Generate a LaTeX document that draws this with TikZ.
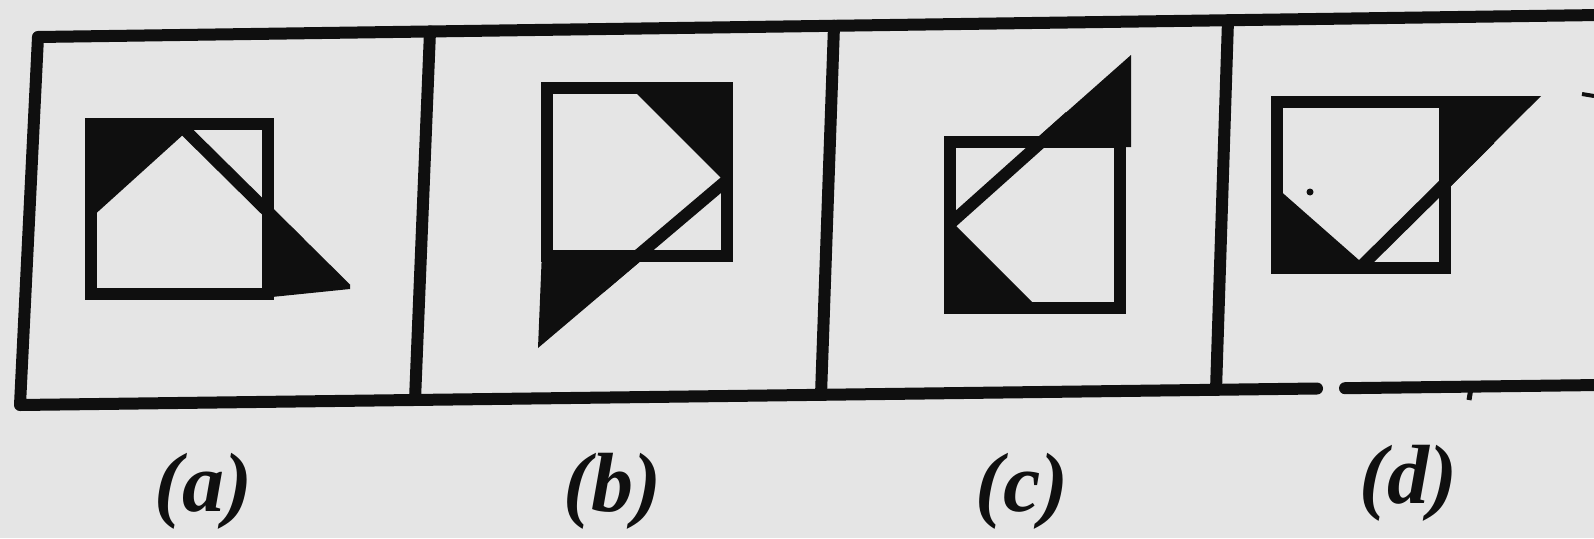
\documentclass[tikz,border=0pt]{standalone}
\usepackage{fontspec}
\setmainfont{Liberation Serif}
\definecolor{bg}{RGB}{229,229,229}
\definecolor{ink}{RGB}{15,15,15}
\begin{document}
\begin{tikzpicture}[x=1pt,y=-1pt,
  frame/.style={draw=ink,line width=12pt,line cap=round,line join=round},
  sq/.style={draw=ink,line width=12pt,line join=miter},
  diag/.style={draw=ink,line width=12pt},
  blk/.style={fill=ink},
  lab/.style={font=\fontsize{84}{90}\selectfont\bfseries\itshape,text=ink,anchor=base,inner sep=0pt}]
\fill[bg] (0,0) rectangle (1594,538);
\useasboundingbox (0,0) rectangle (1594,538);
% outer frame
\draw[frame] (1600,15) -- (38,37) -- (20,405) -- (1317,388.5);
\draw[frame] (1345,388.2) -- (1600,385);
\draw[frame] (430,31.5) -- (415,400);
\draw[frame] (834,25.7) -- (821,395);
\draw[frame] (1228,20.2) -- (1216,390);
\draw[ink,line width=4pt] (1582,94) -- (1594,96);
\draw[ink,line width=5pt] (1471,388) -- (1469,400);
% panel a
\fill[blk] (91,124) -- (195,124) -- (91,218) -- cycle;
\fill[blk] (262,197.6) -- (350,284.5) -- (350,289) -- (262,298) -- cycle;
\draw[sq] (91,124) rectangle (268,294);
\draw[diag] (181,126) -- (300,243.6);
% panel b
\fill[blk] (631,88) -- (727,88) -- (727,184) -- cycle;
\fill[blk] (542,251) -- (652.5,251) -- (538,348) -- cycle;
\draw[sq] (547,88) rectangle (727,256);
\draw[diag] (727,180) -- (600,287.6);
% panel c
\fill[blk] (1131,55) -- (1131,147) -- (1027,147) -- cycle;
\fill[blk] (950,220) -- (1038,308) -- (950,308) -- cycle;
\draw[sq] (950,142) rectangle (1120,308);
\draw[diag] (1070,116.5) -- (952,222);
% panel d
\fill[blk] (1445,96) -- (1541,96) -- (1445,191.8) -- cycle;
\fill[blk] (1277,188) -- (1368,268) -- (1277,268) -- cycle;
\draw[sq] (1277,102) rectangle (1445,268);
\draw[diag] (1490,139) -- (1360,267.5);
\fill[ink] (1310,192) circle (3.5);
% labels
\node[lab] (la) at (203,511) {(a)};
\node[lab] (lb) at (612,511) {(b)};
\node[lab] (lc) at (1022,511) {(c)};
\node[lab] (ld) at (1408,503) {(d)};
\end{tikzpicture}
\end{document}
